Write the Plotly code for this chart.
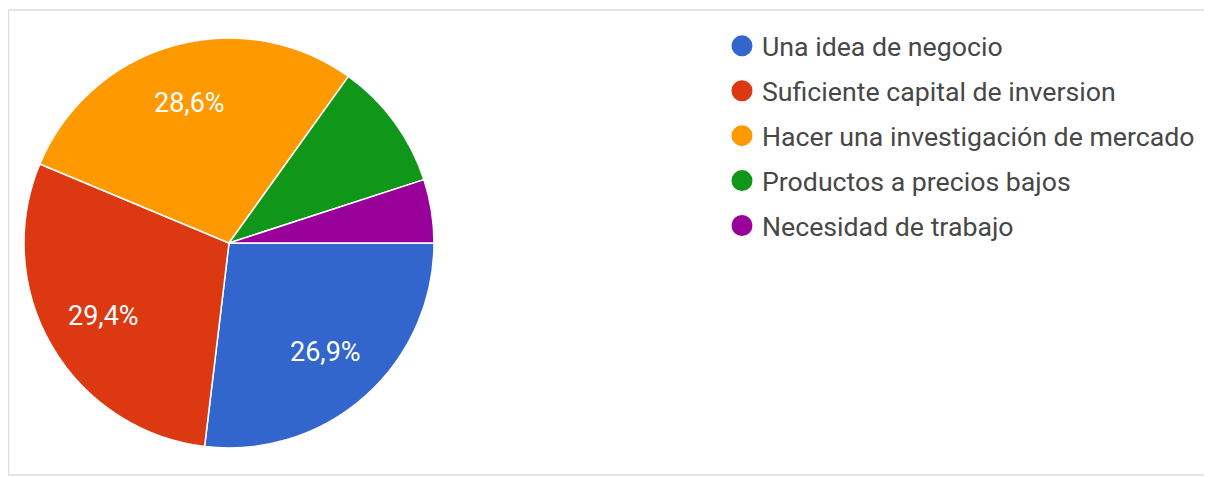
import math
import plotly.graph_objects as go

labels = ["Una idea de negocio", "Suficiente capital de inversion",
          "Hacer una investigación de mercado", "Productos a precios bajos",
          "Necesidad de trabajo"]
values = [26.9, 29.4, 28.6, 10.1, 5.0]
colors = ["#3366cc", "#dc3912", "#ff9900", "#109618", "#990099"]

# page has an 8px body margin; figure coordinates below are page coords - 8
OFF = 8
W, H = 1212 - OFF, 477 - OFF
cx, cy, r = 229 - OFF, 243 - OFF, 205

fig = go.Figure()
fig.add_trace(go.Pie(
    labels=labels, values=values, sort=False, direction="clockwise", rotation=90,
    marker=dict(colors=colors, line=dict(color="white", width=1.5)),
    textinfo="none",
    showlegend=False, hoverinfo="label+percent",
    domain=dict(x=[(cx - r) / W, (cx + r) / W], y=[1 - (cy + r) / H, 1 - (cy - r) / H]),
))

# percentage labels placed along each slice's mid-angle (Google-chart style)
total = sum(values)
cum = 0.0
annotations = []
for v in values:
    mid = (cum + v / 2) / total * 2 * math.pi  # clockwise from 3 o'clock
    cum += v
    if v / total < 0.15:
        continue
    rr = 0.71 * r
    px = cx + rr * math.cos(mid)
    py = cy + rr * math.sin(mid)
    annotations.append(dict(
        x=px / W, y=1 - py / H, xref="paper", yref="paper",
        text=f"{v / total * 100:.1f}%".replace(".", ","), showarrow=False,
        font=dict(family="Roboto, Arial, sans-serif", size=27, color="white"),
        xanchor="center", yanchor="middle",
    ))

for i, (lab, col) in enumerate(zip(labels, colors)):
    fig.add_trace(go.Scatter(
        x=[None], y=[None], mode="markers", name=lab,
        legendgroup=f"g{i}",
        marker=dict(symbol="circle", size=16, color=col, line=dict(color=col, width=5)),
    ))

fig.update_layout(
    width=W, height=H,
    margin=dict(l=0, r=0, t=0, b=0),
    paper_bgcolor="white", plot_bgcolor="white",
    xaxis=dict(visible=False), yaxis=dict(visible=False),
    legend=dict(
        x=714 / W, y=1 - 14 / H, xanchor="left", yanchor="top",
        font=dict(family="Roboto, Arial, sans-serif", size=26.7, color="#474747"),
        traceorder="grouped", tracegroupgap=7.2,
        bgcolor="rgba(0,0,0,0)",
    ),
    annotations=annotations,
    shapes=[dict(type="rect", xref="paper", yref="paper",
                 x0=0.5 / W, x1=1202 / W, y0=1 - 467 / H, y1=1 - 2 / H,
                 line=dict(color="#dddddd", width=1.5), layer="below")],
)

fig.write_html("out.html")
